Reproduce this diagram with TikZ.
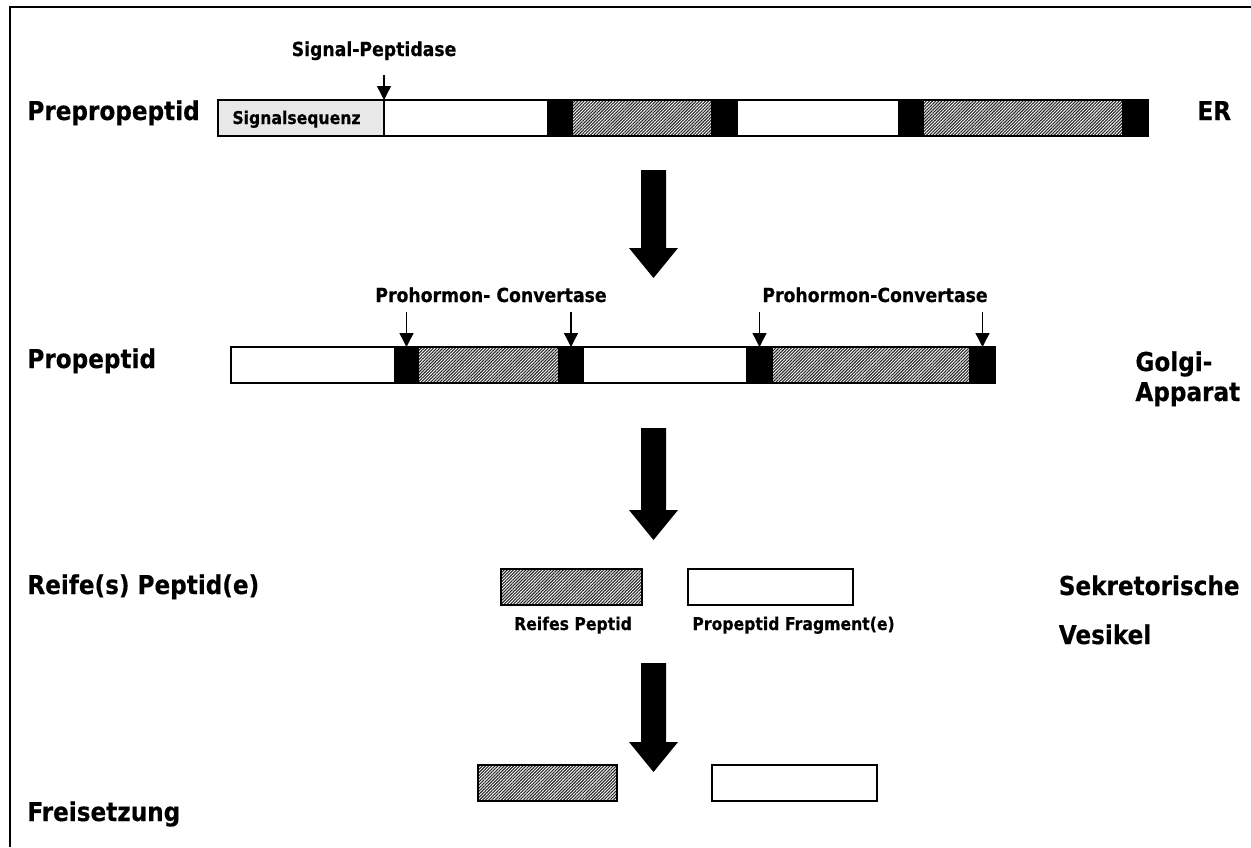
\documentclass[tikz,border=0pt]{standalone}
\usepackage{fontspec}
\setmainfont{DejaVu Sans}[FakeStretch=0.89, BoldFeatures={FakeBold=0.4}]
\usetikzlibrary{arrows.meta,patterns.meta}

\tikzset{
  seg/.style={draw, line width=.7pt, inner sep=0pt, outer sep=0pt, anchor=north west, minimum height=18pt},
  plain/.style={seg, fill=white},
  signal/.style={seg, fill=black!9},
  cut/.style={seg, fill=black},
  mature/.style={seg, pattern={Lines[angle=45,distance=1.1pt,line width=.55pt]}, pattern color=black!85},
  stage/.style={font=\fontsize{13}{15}\selectfont\bfseries, inner sep=0pt, anchor=base west},
  enzyme/.style={font=\fontsize{9.7}{11}\selectfont\bfseries, inner sep=0pt, anchor=base},
  small/.style={font=\fontsize{8.8}{10}\selectfont\bfseries, inner sep=0pt},
  cleave/.style={-{Triangle[width=7pt,length=7pt]}, line width=.7pt},
}
% segment: style, name, left x, right x, top y
\newcommand\segm[5]{\node[#1, minimum width={(#4-#3)*0.5pt}] (#2) at (#3,#5) {};}

\begin{document}
\begin{tikzpicture}[x=0.5pt, y=-0.5pt]
\useasboundingbox (0,0) rectangle (1251,847);
\draw[line width=1pt] (9.5,847) -- (9.5,6.5) -- (1251,6.5);

% Prepropeptid (ER)
\node[stage] (prepro) at (27,120) {Prepropeptid};
\node[stage] (er) at (1197,120) {ER};
\segm{signal}{sig}{218}{384}{100}
\segm{plain}{aw1}{384}{548}{100}
\segm{cut}{ak1}{548}{572}{100}
\segm{mature}{am1}{572}{712}{100}
\segm{cut}{ak2}{712}{737}{100}
\segm{plain}{aw2}{737}{899}{100}
\segm{cut}{ak3}{899}{923}{100}
\segm{mature}{am2}{923}{1123}{100}
\segm{cut}{ak4}{1123}{1148}{100}
\node[small, anchor=base west] (sigtxt) at (232,124) {Signalsequenz};
\node[enzyme] (sigpep) at (374,56) {Signal-Peptidase};
\draw[cleave] (sig.north east) ++(0,-25) -- (sig.north east);

% Propeptid (Golgi)
\node[stage] (pro) at (27,368) {Propeptid};
\node[stage] (golgi) at (1135,371) {Golgi-};
\node[stage] (apparat) at (1135,401) {Apparat};
\segm{plain}{bw1}{231}{395}{347}
\segm{cut}{bk1}{395}{418}{347}
\segm{mature}{bm1}{418}{559}{347}
\segm{cut}{bk2}{559}{583}{347}
\segm{plain}{bw2}{583}{747}{347}
\segm{cut}{bk3}{747}{772}{347}
\segm{mature}{bm2}{772}{970}{347}
\segm{cut}{bk4}{970}{995}{347}
\node[enzyme] (pc1) at (491,302) {Prohormon- Convertase};
\node[enzyme] (pc2) at (875,302) {Prohormon-Convertase};
\foreach \k in {bk1,bk2,bk3,bk4}
  \draw[cleave] (\k.north) ++(0,-35) -- (\k.north);

% Reife(s) Peptid(e) (Vesikel)
\node[stage] (reif) at (27,594) {Reife(s) Peptid(e)};
\node[stage, anchor=base east] (sekr) at (1240,595) {Sekretorische};
\node[stage] (ves) at ([yshift=-24.5pt]sekr.base west) {Vesikel};
\segm{mature}{cm}{501}{642}{569}
\segm{plain}{cw}{688}{853}{569}
\node[small, anchor=base] (cmtxt) at (573,630) {Reifes Peptid};
\node[small, anchor=base west] (cwtxt) at (692,630) {Propeptid Fragment(e)};

% Freisetzung
\node[stage] (frei) at (27,821) {Freisetzung};
\segm{mature}{dm}{478}{617}{765}
\segm{plain}{dw}{712}{877}{765}

% big arrows
\foreach \t/\b in {170/278, 428/540, 663/772}
  \fill (641,\t) -- (666,\t) -- (666,\b-30) -- (678,\b-30) -- (653.5,\b)
        -- (629,\b-30) -- (641,\b-30) -- cycle;
\end{tikzpicture}
\end{document}
